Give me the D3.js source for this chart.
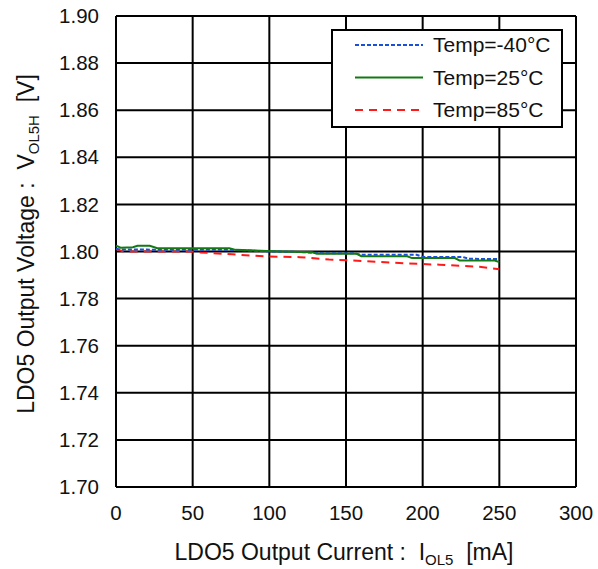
<!DOCTYPE html>
<html>
<head>
<meta charset="utf-8">
<script src="https://cdn.jsdelivr.net/npm/d3@7"></script>
<style>
  body { margin: 0; background: #fff; }
  svg text { font-family: Arial, "Liberation Sans", sans-serif; fill: #111; }
  svg text.title { white-space: pre; }
</style>
</head>
<body>
<div id="chart-area"></div>
<script>
// data
var xTicks = [0, 50, 100, 150, 200, 250, 300];
var yTicks = [1.70, 1.72, 1.74, 1.76, 1.78, 1.80, 1.82, 1.84, 1.86, 1.88, 1.90];

var seriesNames = ["Temp=-40°C", "Temp=25°C", "Temp=85°C"];

var blueX = [0, 3, 20, 75, 100, 115, 135, 155, 160, 196, 200, 226, 230, 250];
var blueY = [1.8012, 1.8008, 1.8008, 1.8007, 1.8000, 1.7999, 1.7993, 1.7993, 1.7986, 1.7986, 1.7977, 1.7977, 1.7969, 1.7968];

var greenX = [0, 3, 11, 14, 22, 27, 74, 78, 107, 128, 131, 157, 160, 190, 193, 221, 224, 247, 250];
var greenY = [1.8025, 1.8016, 1.8018, 1.8024, 1.8024, 1.8014, 1.8014, 1.8007, 1.8000, 1.7997, 1.7990, 1.7990, 1.7980, 1.7980, 1.7972, 1.7972, 1.7962, 1.7962, 1.7955];

var redX = [0, 5, 48, 55, 76, 81, 98, 120, 139, 163, 190, 211, 237, 250];
var redY = [1.8010, 1.8000, 1.8000, 1.7996, 1.7988, 1.7986, 1.7979, 1.7976, 1.7966, 1.7959, 1.7949, 1.7944, 1.7935, 1.7925];

var margin = { left: 116, right: 22, top: 16, bottom: 82 };
var W = 598, H = 569;
var width = W - margin.left - margin.right,
    height = H - margin.top - margin.bottom;

var svg = d3.select("#chart-area")
    .append("svg")
        .attr("width", W)
        .attr("height", H);

var g = svg.append("g")
    .attr("transform", "translate(" + margin.left + "," + margin.top + ")");

var x = d3.scaleLinear().domain([0, 300]).range([0, width]);
var y = d3.scaleLinear().domain([1.70, 1.90]).range([height, 0]);

// grid
g.selectAll("line.vgrid").data(xTicks).enter().append("line")
    .attr("x1", function(d){ return x(d); })
    .attr("x2", function(d){ return x(d); })
    .attr("y1", 0).attr("y2", height)
    .attr("stroke", "#000").attr("stroke-width", 2);

g.selectAll("line.hgrid").data(yTicks).enter().append("line")
    .attr("y1", function(d){ return y(d); })
    .attr("y2", function(d){ return y(d); })
    .attr("x1", 0).attr("x2", width)
    .attr("stroke", "#000").attr("stroke-width", 2);

// tick labels
g.selectAll("text.xt").data(xTicks).enter().append("text")
    .attr("x", function(d){ return x(d); })
    .attr("y", height + 33)
    .attr("text-anchor", "middle")
    .attr("font-size", "20.5px")
    .text(function(d){ return d; });

g.selectAll("text.yt").data(yTicks).enter().append("text")
    .attr("x", -17)
    .attr("y", function(d){ return y(d); })
    .attr("dy", "0.35em")
    .attr("text-anchor", "end")
    .attr("font-size", "20.5px")
    .text(function(d){ return d.toFixed(2); });

// lines
var line = d3.line()
    .x(function(d){ return x(d[0]); })
    .y(function(d){ return y(d[1]); });

var series = [
    { name: seriesNames[0], pts: d3.zip(blueX, blueY), color: "#1a4fd8", dash: "4,2" },
    { name: seriesNames[1], pts: d3.zip(greenX, greenY), color: "#137a13", dash: null },
    { name: seriesNames[2], pts: d3.zip(redX, redY), color: "#ff1a1a", dash: "8,6" }
];

// draw in order red, blue, green like the reference layering
[2, 0, 1].forEach(function(i){
    var s = series[i];
    g.append("path")
        .attr("d", line(s.pts))
        .attr("fill", "none")
        .attr("stroke", s.color)
        .attr("stroke-width", 2)
        .attr("stroke-dasharray", s.dash);
});

// legend
var lg = svg.append("g");
lg.append("rect")
    .attr("x", 332).attr("y", 30)
    .attr("width", 230).attr("height", 97)
    .attr("fill", "#fff").attr("stroke", "#000").attr("stroke-width", 2);

series.forEach(function(s, i){
    var ly = 45 + i * 32.5;
    lg.append("line")
        .attr("x1", 355).attr("x2", 423)
        .attr("y1", ly).attr("y2", ly)
        .attr("stroke", s.color).attr("stroke-width", 2)
        .attr("stroke-dasharray", s.dash);
    lg.append("text")
        .attr("x", 433).attr("y", ly)
        .attr("dy", "0.35em")
        .attr("font-size", "21px")
        .text(s.name);
});

// X Label
var xl = svg.append("text")
    .attr("class", "title")
    .attr("x", 344)
    .attr("y", 560)
    .attr("text-anchor", "middle")
    .attr("font-size", "23px");
xl.append("tspan").text("LDO5 Output Current :  I");
xl.append("tspan").attr("font-size", "15px").attr("dy", 5).text("OL5");
xl.append("tspan").attr("dy", -5).text("  [mA]");

// Y Label
var yl = svg.append("text")
    .attr("class", "title")
    .attr("transform", "translate(34,244) rotate(-90)")
    .attr("text-anchor", "middle")
    .attr("font-size", "23px");
yl.append("tspan").text("LDO5 Output Voltage :  V");
yl.append("tspan").attr("font-size", "15px").attr("dy", 5).text("OL5H");
yl.append("tspan").attr("dy", -5).text("  [V]");
</script>
</body>
</html>
